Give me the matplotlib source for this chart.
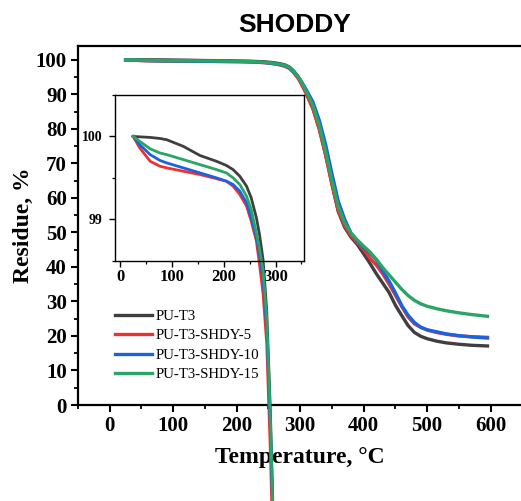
import matplotlib.pyplot as plt
from matplotlib.ticker import MultipleLocator

plt.rcParams['font.family'] = 'Liberation Serif'
plt.rcParams['font.weight'] = 'bold'

# Datos (temperatura en C, residuo en %)
temp = [25, 38, 58, 77, 90, 122, 154, 186, 205, 218, 231, 244, 253, 263, 269,
        276, 283, 290, 296, 300, 310, 320, 330, 340, 350, 360, 370, 380, 390,
        400, 410, 420, 430, 440, 450, 460, 470, 480, 490, 500, 515, 530, 550,
        570, 595]

pu_t3 = [100.00, 99.995, 99.988, 99.975, 99.96, 99.88, 99.77, 99.70, 99.65,
         99.60, 99.52, 99.40, 99.26, 99.02, 98.82, 98.51, 97.90, 96.70, 95.30,
         94.00, 90.2, 86.0, 80.0, 72.5, 64.0, 56.0, 51.5, 48.6, 46.5, 43.8,
         41.0, 38.0, 35.3, 32.6, 28.9, 25.9, 23.0, 21.0, 19.9, 19.2, 18.5,
         18.0, 17.6, 17.3, 17.1]

shdy5 = [100.00, 99.86, 99.70, 99.64, 99.62, 99.58, 99.54, 99.49, 99.46,
         99.40, 99.30, 99.16, 98.98, 98.74, 98.46, 98.10, 97.50, 96.20, 94.80,
         93.60, 90.0, 85.8, 80.0, 72.5, 64.0, 56.3, 52.0, 49.0, 47.0, 45.0,
         42.5, 40.5, 38.0, 35.0, 31.8, 28.5, 25.5, 23.5, 22.5, 21.7, 21.0,
         20.5, 20.0, 19.8, 19.6]

shdy10 = [100.00, 99.90, 99.78, 99.71, 99.68, 99.62, 99.56, 99.50, 99.46,
          99.42, 99.34, 99.20, 99.02, 98.78, 98.58, 98.28, 97.70, 96.50, 95.20,
          94.30, 91.2, 87.8, 82.5, 75.5, 67.0, 59.0, 53.8, 49.8, 47.5, 45.6,
          44.0, 42.0, 38.8, 35.9, 32.5, 28.8, 26.0, 23.9, 22.5, 21.8, 21.2,
          20.6, 20.1, 19.7, 19.4]

shdy15 = [100.00, 99.94, 99.85, 99.80, 99.78, 99.72, 99.66, 99.60, 99.56,
          99.50, 99.42, 99.28, 99.12, 98.84, 98.65, 98.38, 97.80, 96.60, 95.20,
          94.20, 90.7, 86.8, 81.0, 73.5, 65.0, 57.5, 52.8, 49.8, 47.8, 46.0,
          44.3, 42.2, 39.8, 37.7, 35.6, 33.5, 31.7, 30.3, 29.3, 28.6, 27.9,
          27.3, 26.7, 26.2, 25.7]

series = [pu_t3, shdy5, shdy10, shdy15]
labels = ['PU-T3', 'PU-T3-SHDY-5', 'PU-T3-SHDY-10', 'PU-T3-SHDY-15']
colores = ['#3f3f3f', '#f03030', '#1a63e0', '#2aa565']

fig = plt.figure(figsize=(5.21, 5.01), dpi=100)

# Grafico principal
ax = fig.add_axes([0.1497, 0.1916, 0.853, 0.7166])
for y, lab, c in zip(series, labels, colores):
    ax.plot(temp, y, color=c, lw=2.4, label=lab)

ax.set_xlim(-50, 650)
ax.set_ylim(0, 104)
ax.xaxis.set_major_locator(MultipleLocator(100))
ax.xaxis.set_minor_locator(MultipleLocator(50))
ax.yaxis.set_major_locator(MultipleLocator(10))
ax.yaxis.set_minor_locator(MultipleLocator(5))
ax.tick_params(which='major', direction='out', length=5, width=1.5, labelsize=15)
ax.tick_params(which='minor', direction='out', length=3, width=1.3)
ax.tick_params(axis='x', pad=3)
ax.tick_params(axis='y', pad=3)
for s in ax.spines.values():
    s.set_linewidth(1.6)

ax.set_xlabel('Temperature, °C', fontsize=17, fontweight='bold', labelpad=8)
ax.set_ylabel('Residue, %', fontsize=17, fontweight='bold', labelpad=1)

ax.legend(loc='upper left', bbox_to_anchor=(115 / 521, 1 - 309.5 / 501),
          bbox_transform=fig.transFigure, frameon=False,
          prop={'family': 'Liberation Serif', 'weight': 'normal', 'size': 10.7},
          handlelength=2.5, handletextpad=0.2, labelspacing=0.41,
          borderpad=0, borderaxespad=0)

fig.text(295 / 521, 1 - 25 / 501, 'SHODDY', ha='center', va='center',
         fontsize=19, fontweight='bold', family='Liberation Sans')

# Recuadro (zoom del inicio)
ins = fig.add_axes([0.2207, 0.4796, 0.3628, 0.3308])
for y, c in zip(series, colores):
    ins.plot(temp, y, color=c, lw=2.0, clip_on=False)

ins.set_xlim(-10, 355)
ins.set_ylim(98.5, 100.5)
ins.xaxis.set_major_locator(MultipleLocator(100))
ins.xaxis.set_minor_locator(MultipleLocator(50))
ins.yaxis.set_major_locator(MultipleLocator(1))
ins.yaxis.set_minor_locator(MultipleLocator(0.5))
ins.tick_params(which='major', direction='out', length=4, width=1.0)
ins.tick_params(which='minor', direction='out', length=2.5, width=0.9)
ins.tick_params(axis='x', labelsize=12, pad=2)
ins.tick_params(axis='y', labelsize=10, pad=5)
for s in ins.spines.values():
    s.set_linewidth(1.0)

plt.savefig('out.png', dpi=100)
